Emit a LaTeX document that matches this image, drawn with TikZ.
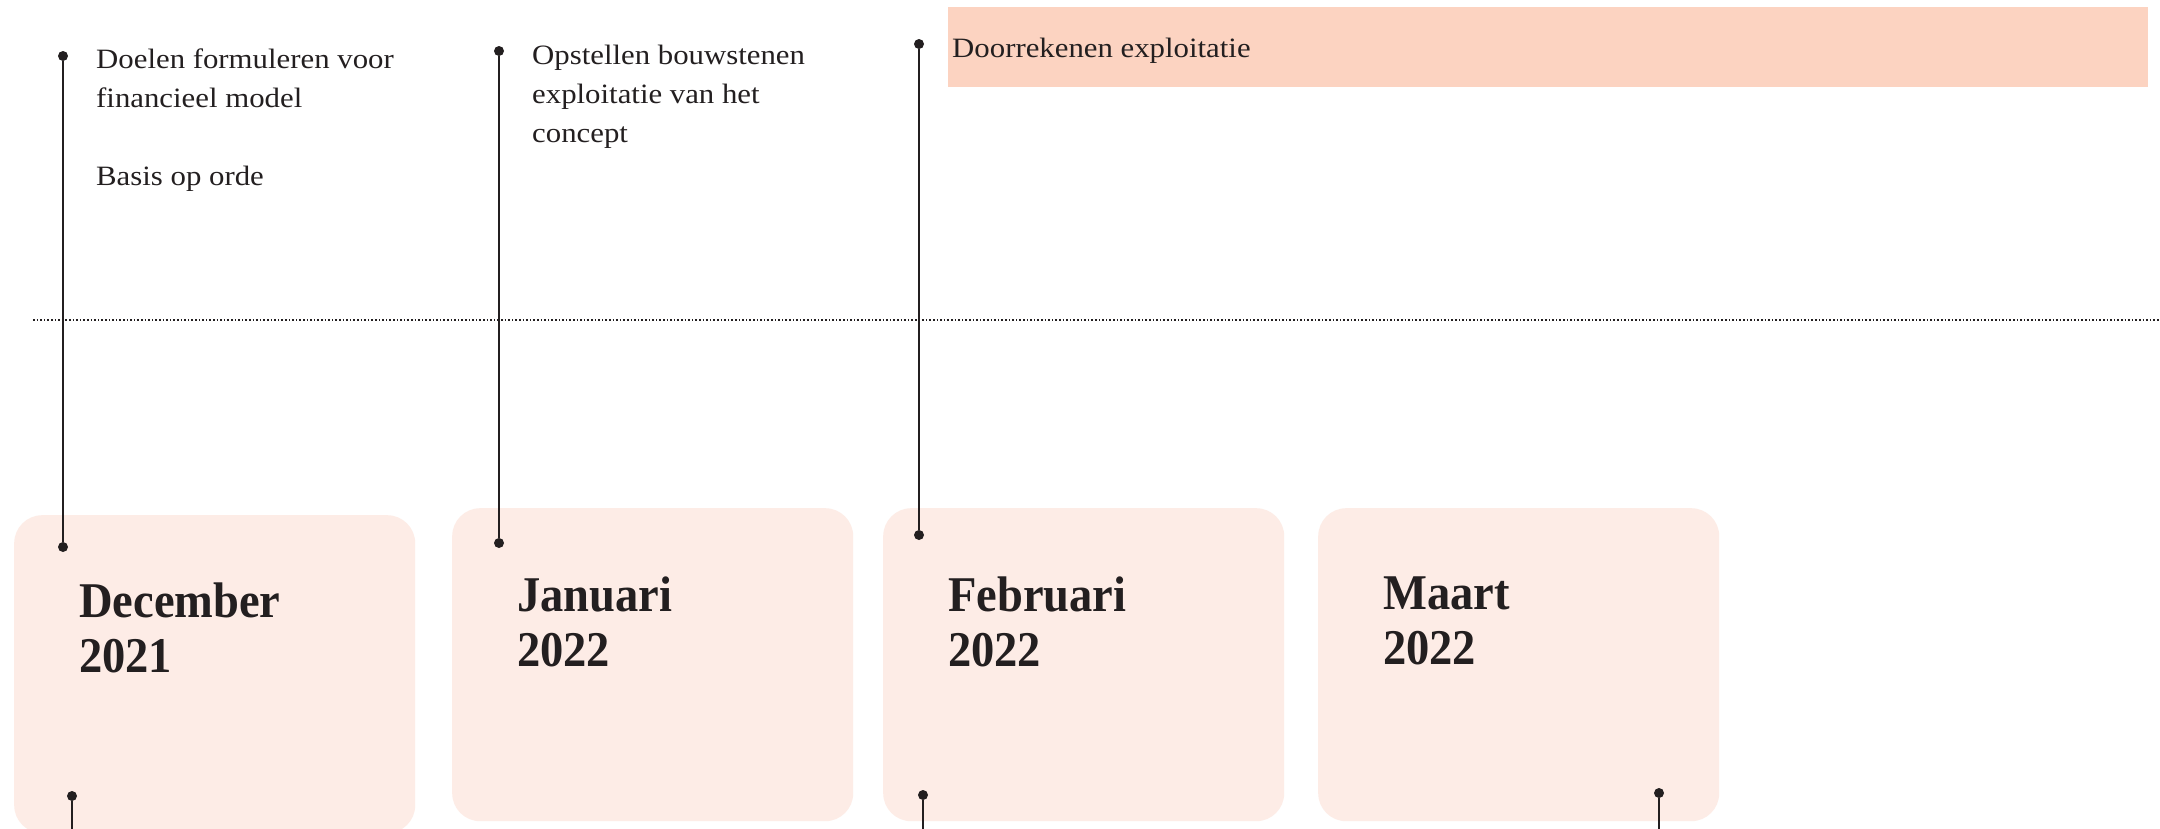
\documentclass[tikz,border=0pt]{standalone}
\usepackage{fontspec}
\setmainfont{Liberation Serif}
\newfontfamily\taskfont[FakeStretch=1.1]{Liberation Serif}
\newfontfamily\monthfont[FakeStretch=0.93]{Liberation Serif}
\definecolor{ink}{HTML}{231F20}
\definecolor{monthpink}{HTML}{FDECE6}
\definecolor{barorange}{HTML}{FCD3C1}
\tikzset{
  pin/.style={circle, fill=ink, inner sep=0pt, minimum width=9pt, minimum height=10pt},
  stemline/.style={ink, line width=2.6pt},
  monthbox/.style={fill=monthpink, rounded corners=28pt, minimum width=401pt, minimum height=313pt, anchor=north west, inner sep=0pt},
  monthtitle/.style={anchor=north west, inner sep=0pt, align=left, text=ink, font=\monthfont\fontsize{50pt}{55pt}\selectfont\bfseries},
  tasktext/.style={anchor=north west, inner sep=0pt, align=left, text=ink, font=\taskfont\fontsize{28pt}{39pt}\selectfont}
}
\begin{document}
\begin{tikzpicture}[x=1pt, y=-1pt]
\useasboundingbox[fill=white] (0,0) rectangle (2160,828);

% month blocks
\node[monthbox, minimum height=318pt] (dec) at (14,515) {};
\node[monthbox] (jan) at (452,508) {};
\node[monthbox] (feb) at (883,508) {};
\node[monthbox] (mrt) at (1318,508) {};
\node[monthtitle] (decT) at (79,583) {December\\2021};
\node[monthtitle] (janT) at (517,577) {Januari\\2022};
\node[monthtitle] (febT) at (948,577) {Februari\\2022};
\node[monthtitle] (mrtT) at (1383,577) {Maart\\2022};

% today line
\coordinate (lineL) at (33,320);
\coordinate (lineR) at (2160,320);
\draw[ink, line width=1.6pt, dotted] (lineL) -- (lineR);

% bar
\node[fill=barorange, minimum width=1200pt, minimum height=80pt, anchor=north west, inner sep=0pt] (bar) at (948,7) {};
\node[tasktext] (t3) at (952,38) {Doorrekenen exploitatie};

% tasks
\node[tasktext] (t1) at (96,49) {Doelen formuleren voor\\financieel model\\[39pt]Basis op orde};
\node[tasktext] (t2) at (532,45) {Opstellen bouwstenen\\exploitatie van het\\concept};

% pins and stems
\node[pin] (p1a) at (63,56) {};
\node[pin] (p1b) at (63,547) {};
\node[pin] (p2a) at (499,51) {};
\node[pin] (p2b) at (499,543) {};
\node[pin] (p3a) at (919,44) {};
\node[pin] (p3b) at (919,535) {};
\draw[stemline] (p1a) -- (p1b);
\draw[stemline] (p2a) -- (p2b);
\draw[stemline] (p3a) -- (p3b);

\node[pin] (q1) at (72,796) {};
\node[pin] (q3) at (923,795) {};
\node[pin] (q4) at (1659,793) {};
\coordinate (q1e) at (72,830);
\coordinate (q3e) at (923,830);
\coordinate (q4e) at (1659,830);
\draw[stemline] (q1) -- (q1e);
\draw[stemline] (q3) -- (q3e);
\draw[stemline] (q4) -- (q4e);
\end{tikzpicture}
\end{document}
